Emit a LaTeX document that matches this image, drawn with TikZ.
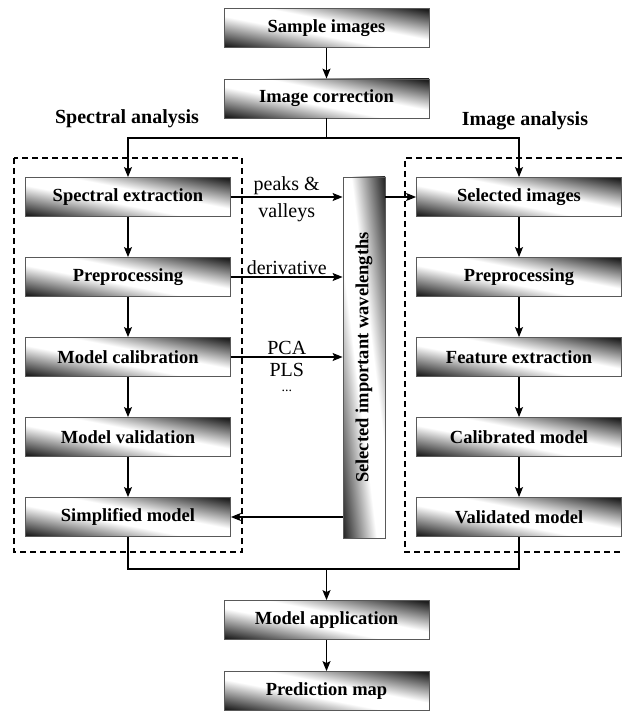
\documentclass[tikz,border=0pt]{standalone}
\usepackage{fontspec}
\setmainfont{Liberation Serif}
\usetikzlibrary{arrows.meta}
\colorlet{shdark}{black!88}
\pgfdeclarehorizontalshading{boxshade}{100bp}{color(0bp)=(shdark); color(22bp)=(shdark); color(44bp)=(white); color(56bp)=(white); color(78bp)=(shdark); color(100bp)=(shdark)}

\begin{document}
\begin{tikzpicture}[x=1pt,y=-1pt,
  stage/.style={draw=black!65,line width=0.8pt,shading=boxshade,shading angle=79,
    minimum width=205pt,minimum height=39pt,inner sep=0pt,
    font=\bfseries\fontsize{18.5}{20}\selectfont},
  head/.style={font=\bfseries\fontsize{20}{22}\selectfont},
  tag/.style={font=\fontsize{20}{22}\selectfont,inner sep=2pt},
  panel/.style={line width=1.6pt,dash pattern=on 6pt off 4pt},
  flow/.style={line width=1.3pt},
  >={Stealth[length=10pt,width=8pt,inset=2pt]}]
  \useasboundingbox (0,0) rectangle (622,711);

  \node[stage] (sample) at (326.5,28) {Sample images};
  \node[stage] (correct) at (326.5,98.5) {Image correction};
  \node[head] (spechead) at (127,119) {Spectral analysis};
  \node[head] (imghead) at (525,121) {Image analysis};

  \node[stage] (specext) at (128,197) {Spectral extraction};
  \node[stage] (specpre) at (128,277) {Preprocessing};
  \node[stage] (calib) at (128,357) {Model calibration};
  \node[stage] (valid) at (128,437) {Model validation};
  \node[stage] (simple) at (128,517) {Simplified model};

  \node[stage] (selimg) at (519,197) {Selected images};
  \node[stage] (imgpre) at (519,277) {Preprocessing};
  \node[stage] (feat) at (519,357) {Feature extraction};
  \node[stage] (calmod) at (519,437) {Calibrated model};
  \node[stage] (valmod) at (519,517) {Validated model};

  \node[stage,shading angle=7,minimum width=42pt,minimum height=361pt] (wave) at (364,357.5)
    {\rotatebox{90}{Selected important wavelengths}};

  \node[stage] (apply) at (326.5,620) {Model application};
  \node[stage] (predmap) at (326.5,691) {Prediction map};

  \draw[panel] (14,158) rectangle (242,552);
  \draw[panel] (622,158) -- (405,158) -- (405,552) -- (622,552);

  \coordinate (split) at (326.5,138);
  \coordinate (merge) at (326.5,569);
  \draw[flow] (correct) -- (split);
  \draw[flow,->] (split) -| (specext);
  \draw[flow,->] (split) -| (selimg);
  \draw[flow] (simple) |- (merge) -| (valmod);

  \path[flow,->]
    (sample) edge (correct)
    (specext) edge (specpre)
    (specpre) edge (calib)
    (calib) edge (valid)
    (valid) edge (simple)
    (selimg) edge (imgpre)
    (imgpre) edge (feat)
    (feat) edge (calmod)
    (calmod) edge (valmod)
    (specext) edge node[tag,above] {peaks \&} node[tag,below=4pt] {valleys} (wave.west |- specext)
    (wave.east |- selimg) edge (selimg)
    (specpre) edge node[tag,above] {derivative} (wave.west |- specpre)
    (calib) edge node[tag,above] {PCA} node[tag,below=4pt] {PLS}
      node[tag,below=30pt,font=\fontsize{14}{14}\selectfont] {...} (wave.west |- calib)
    (wave.west |- simple) edge (simple)
    (merge) edge (apply)
    (apply) edge (predmap);
\end{tikzpicture}
\end{document}
